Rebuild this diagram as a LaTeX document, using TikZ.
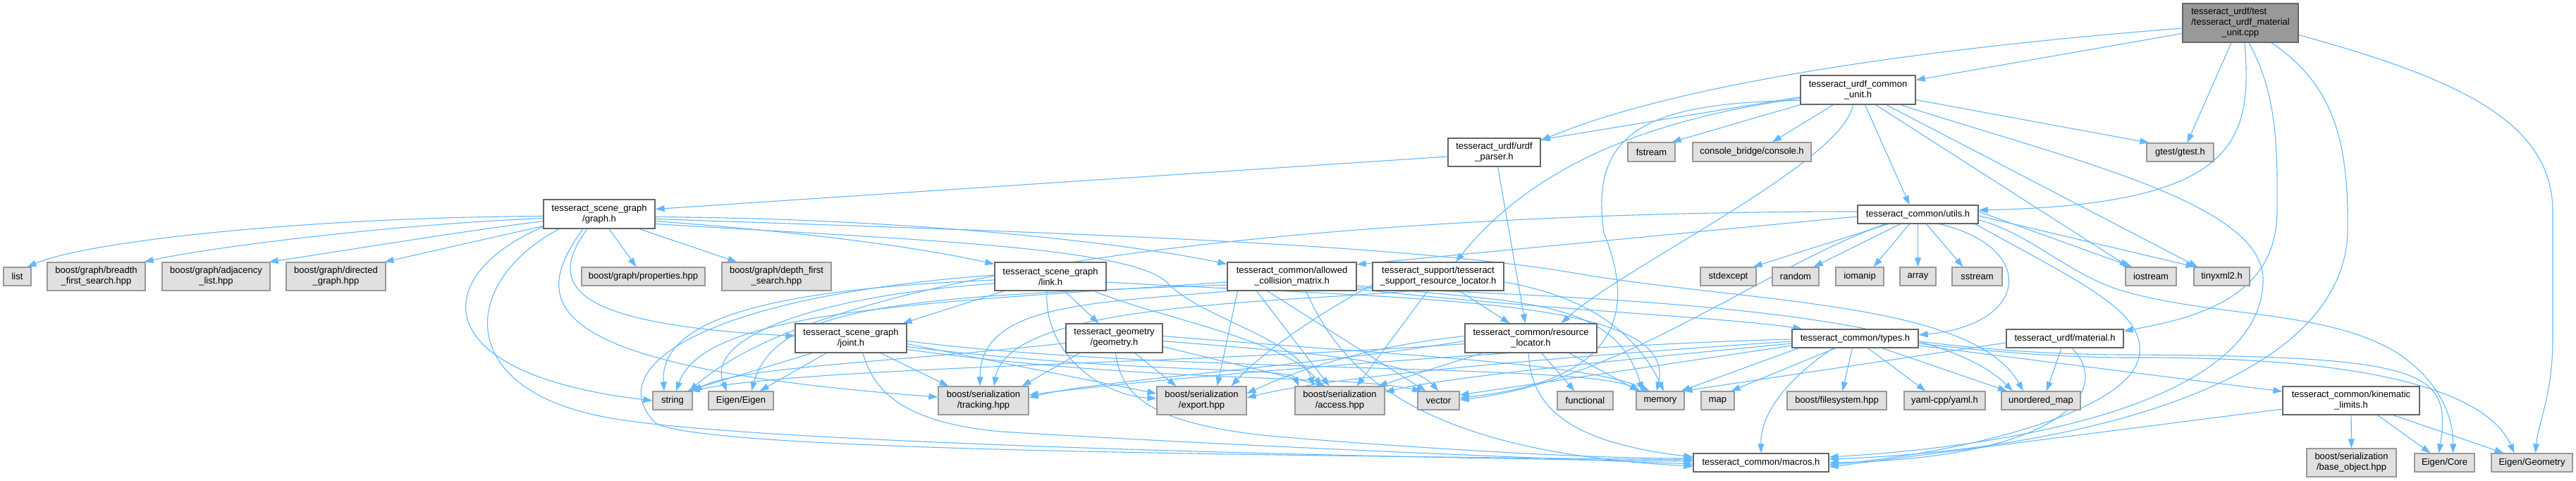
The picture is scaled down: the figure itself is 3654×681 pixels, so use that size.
\documentclass[tikz,border=0pt]{standalone}
\usepackage{fontspec}
\setmainfont{Liberation Sans}
\usetikzlibrary{arrows.meta,calc}
\pgfdeclarelayer{background}
\pgfsetlayers{background,main}
\definecolor{edgec}{HTML}{63B8FF}
\definecolor{docb}{HTML}{666666}
\definecolor{extb}{HTML}{999999}
\definecolor{extf}{HTML}{E0E0E0}
\definecolor{rootf}{HTML}{999999}
\tikzset{
  nfont/.style={font=\fontsize{13}{15}\selectfont},
  docn/.style={nfont,draw=docb,fill=white,line width=1.2pt,inner sep=0pt,align=center},
  extn/.style={nfont,draw=extb,fill=extf,line width=1.2pt,inner sep=0pt,align=center},
  rootn/.style={nfont,draw=docb,fill=rootf,line width=1.2pt,inner sep=0pt},
  edg/.style={draw=edgec,line width=1.1pt,-{Triangle[length=13pt,width=9pt]}}
}
\begin{document}
\begin{tikzpicture}[x=1pt,y=-1pt]
\useasboundingbox (0,0) rectangle (3654,681);
% ---------------- nodes ----------------
\node[rootn,minimum width=164pt,minimum height=55pt] (root) at (3178,32.5) {\begin{tabular}{@{}l@{}}tesseract\_urdf/test\\/tesseract\_urdf\_material\\\multicolumn{1}{@{}c@{}}{\_unit.cpp}\end{tabular}};
\node[docn,minimum width=163pt,minimum height=41pt] (UCU) at (2635.5,127.5) {tesseract\_urdf\_common\\\_unit.h};
\node[docn,minimum width=131pt,minimum height=40pt] (UP) at (2119.5,216) {tesseract\_urdf/urdf\\\_parser.h};
\node[extn,minimum width=95pt,minimum height=26pt] (gtest) at (3092.5,216) {gtest/gtest.h};
\node[extn,minimum width=67pt,minimum height=27pt] (fstream) at (2342.5,215.5) {fstream};
\node[extn,minimum width=168pt,minimum height=27pt] (console) at (2485,215.5) {console\_bridge/console.h};
\node[docn,minimum width=158pt,minimum height=41pt] (graph) at (850,303.5) {tesseract\_scene\_graph\\/graph.h};
\node[docn,minimum width=171pt,minimum height=26pt] (utils) at (2720.5,304) {tesseract\_common/utils.h};
\node[extn,minimum width=39pt,minimum height=26pt] (list) at (24.5,392) {list};
\node[extn,minimum width=139pt,minimum height=40pt] (breadth) at (136.5,392) {boost/graph/breadth\\\_first\_search.hpp};
\node[extn,minimum width=153pt,minimum height=40pt] (adjacency) at (306.5,392) {boost/graph/adjacency\\\_list.hpp};
\node[extn,minimum width=141pt,minimum height=40pt] (directed) at (476.5,392) {boost/graph/directed\\\_graph.hpp};
\node[extn,minimum width=175pt,minimum height=26pt] (properties) at (912.5,392) {boost/graph/properties.hpp};
\node[extn,minimum width=155pt,minimum height=40pt] (depth) at (1101.5,392) {boost/graph/depth\_first\\\_search.hpp};
\node[docn,minimum width=158pt,minimum height=40pt] (link) at (1490,392) {tesseract\_scene\_graph\\/link.h};
\node[docn,minimum width=183pt,minimum height=40pt] (ACM) at (1832.5,392) {tesseract\_common/allowed\\\_collision\_matrix.h};
\node[docn,minimum width=186pt,minimum height=40pt] (SRL) at (2040,392) {tesseract\_support/tesseract\\\_support\_resource\_locator.h};
\node[extn,minimum width=79pt,minimum height=26pt] (stdexcept) at (2451.5,392) {stdexcept};
\node[extn,minimum width=66pt,minimum height=26pt] (random) at (2547,392) {random};
\node[extn,minimum width=68pt,minimum height=26pt] (iomanip) at (2638,392) {iomanip};
\node[extn,minimum width=51pt,minimum height=26pt] (array) at (2720.5,392) {array};
\node[extn,minimum width=71pt,minimum height=26pt] (sstream) at (2804.5,392) {sstream};
\node[extn,minimum width=72pt,minimum height=26pt] (iostream) at (3051,392) {iostream};
\node[extn,minimum width=79pt,minimum height=26pt] (tinyxml) at (3151.5,392) {tinyxml2.h};
\node[docn,minimum width=158pt,minimum height=41pt] (joint) at (1207,479.5) {tesseract\_scene\_graph\\/joint.h};
\node[docn,minimum width=137pt,minimum height=41pt] (geometry) at (1580.5,479.5) {tesseract\_geometry\\/geometry.h};
\node[docn,minimum width=187pt,minimum height=41pt] (RL) at (2171.5,479.5) {tesseract\_common/resource\\\_locator.h};
\node[docn,minimum width=179pt,minimum height=26pt] (types) at (2631.5,480) {tesseract\_common/types.h};
\node[docn,minimum width=166pt,minimum height=26pt] (material) at (2929,480) {tesseract\_urdf/material.h};
\node[extn,minimum width=56pt,minimum height=26pt] (string) at (954,568) {string};
\node[extn,minimum width=92pt,minimum height=26pt] (EigenEigen) at (1051,568) {Eigen/Eigen};
\node[extn,minimum width=128pt,minimum height=40pt] (tracking) at (1395,568) {boost/serialization\\/tracking.hpp};
\node[extn,minimum width=127pt,minimum height=40pt] (export) at (1704.5,568) {boost/serialization\\/export.hpp};
\node[extn,minimum width=127pt,minimum height=40pt] (access) at (1900.5,568) {boost/serialization\\/access.hpp};
\node[extn,minimum width=59pt,minimum height=26pt] (vector) at (2040.5,568) {vector};
\node[extn,minimum width=79pt,minimum height=26pt] (functional) at (2248.5,568) {functional};
\node[extn,minimum width=68pt,minimum height=26pt] (memory) at (2355,568) {memory};
\node[extn,minimum width=47pt,minimum height=26pt] (map) at (2436.5,568) {map};
\node[extn,minimum width=141pt,minimum height=26pt] (filesystem) at (2605.5,568) {boost/filesystem.hpp};
\node[extn,minimum width=115pt,minimum height=26pt] (yaml) at (2758.5,568) {yaml-cpp/yaml.h};
\node[extn,minimum width=112pt,minimum height=26pt] (unordered) at (2895,568) {unordered\_map};
\node[docn,minimum width=194pt,minimum height=40pt] (kinematic) at (3335,568) {tesseract\_common/kinematic\\\_limits.h};
\node[docn,minimum width=192pt,minimum height=26pt] (macros) at (2498,656) {tesseract\_common/macros.h};
\node[extn,minimum width=127pt,minimum height=40pt] (baseobj) at (3335.5,656) {boost/serialization\\/base\_object.hpp};
\node[extn,minimum width=85pt,minimum height=26pt] (EigenCore) at (3467.5,656) {Eigen/Core};
\node[extn,minimum width=115pt,minimum height=26pt] (EigenGeometry) at (3591.5,656) {Eigen/Geometry};
% ---------------- edges ----------------
\begin{pgfonlayer}{background}
\fill[white] (0,0) rectangle (3654,681);
% root
\draw[edg] ($(root.west)+(0,7.5)$) .. controls (2650,75) and (2350,130) .. ($(UP.north east)+(0,4)$);
\draw[edg] ($(root.west)+(0,15)$) -- ($(UCU.east)+(0,-14)$);
\draw[edg] ($(root.south)+(-13,0)$) -- ($(gtest.north)+(10,0)$);
\draw[edg] ($(root.south)+(6,0)$) .. controls (3195,200) and (3175,290) .. ($(utils.east)+(0,-6)$);
\draw[edg] ($(root.south)+(12,0)$) .. controls (3228,130) and (3231,200) .. (3230,300) .. controls (3229,420) and (3120,450) .. ($(material.north east)+(0,3)$);
\draw[edg] ($(root.south)+(44,0)$) .. controls (3310,120) and (3332,200) .. (3330,330) .. controls (3322,560) and (2900,640) .. ($(macros.east)+(0,-5)$);
\draw[edg] ($(root.east)+(0,17)$) .. controls (3480,110) and (3621,170) .. (3621,300) -- (3621,480) .. controls (3621,560) and (3600,600) .. ($(EigenGeometry.north)+(5,0)$);
% UCU
\draw[edg] ($(UCU.west)+(0,10)$) -- ($(UP.east)+(0,-18)$);
\draw[edg] ($(UCU.west)+(0,12)$) .. controls (2330,170) and (2170,240) .. ($(SRL.north)+(25,0)$);
\draw[edg] ($(UCU.west)+(0,15)$) .. controls (2330,145) and (2255,190) .. (2275,330) .. controls (2320,440) and (2300,540) .. ($(vector.east)+(0,-4)$);
\draw[edg] (UCU.south west) -- ($(fstream.north east)+(-5,0)$);
\draw[edg] ($(UCU.south)+(-35,0)$) -- ($(console.north)+(29,0)$);
\draw[edg] ($(UCU.south)+(-7,0)$) .. controls (2615,230) and (2300,380) .. ($(RL.north)+(43,0)$);
\draw[edg] ($(UCU.south)+(10,0)$) -- ($(utils.north)+(-12,0)$);
\draw[edg] ($(UCU.south)+(25,0)$) -- ($(iostream.north west)+(5,0)$);
\draw[edg] ($(UCU.south)+(40,0)$) -- ($(tinyxml.north west)+(6,0)$);
\draw[edg] ($(UCU.south)+(60,0)$) .. controls (2950,230) and (3215,290) .. (3210,400) .. controls (3205,560) and (2900,630) .. ($(macros.east)+(0,-8)$);
\draw[edg] ($(UCU.east)+(0,14)$) -- ($(gtest.north west)+(4,0)$);
% UP
\draw[edg] ($(UP.west)+(0,6)$) -- ($(graph.east)+(0,-7)$);
\draw[edg] ($(UP.south)+(5,0)$) -- ($(RL.north)+(-8,0)$);
% graph
\draw[edg] ($(graph.west)+(0,3)$) .. controls (450,308) and (130,340) .. ($(list.north east)+(-6,0)$);
\draw[edg] ($(graph.west)+(0,6)$) .. controls (560,318) and (300,350) .. ($(breadth.north east)+(-2,0)$);
\draw[edg] ($(graph.west)+(0,10)$) .. controls (640,330) and (460,360) .. ($(adjacency.north east)+(-2,0)$);
\draw[edg] ($(graph.west)+(0,17)$) -- ($(directed.north east)+(-2,0)$);
\draw[edg] ($(graph.south)+(14,0)$) -- ($(properties.north)+(-10,0)$);
\draw[edg] ($(graph.south east)+(-23,0)$) -- ($(depth.north west)+(22,0)$);
\draw[edg] ($(graph.south west)+(0,-3)$) .. controls (610,390) and (600,530) .. (string.west);
\draw[edg] ($(graph.south west)+(23,0)$) .. controls (650,400) and (640,560) .. (880,595) .. controls (1100,630) and (2000,650) .. ($(macros.west)+(0,-2)$);
\draw[edg] ($(graph.south)+(-17,0)$) .. controls (770,410) and (820,460) .. ($(joint.west)+(0,-3)$);
\draw[edg] ($(graph.south)+(-23,0)$) .. controls (750,430) and (760,520) .. ($(tracking.west)+(0,-5)$);
\draw[edg] ($(graph.east)+(0,10)$) .. controls (1150,330) and (1300,350) .. ($(link.north west)+(0,3)$);
\draw[edg] ($(graph.east)+(0,4)$) .. controls (1300,310) and (1600,345) .. ($(ACM.north west)+(0,3)$);
\draw[edg] ($(graph.east)+(0,14)$) .. controls (1300,340) and (1600,350) .. (1655,400) .. controls (1700,450) and (1840,480) .. ($(access.north)+(-37,0)$);
\draw[edg] ($(graph.east)+(0,7)$) .. controls (1500,330) and (2000,345) .. (2250,390) .. controls (2500,430) and (2800,430) .. ($(unordered.north)+(-25,0)$);
% link
\draw[edg] ($(link.south west)+(14,0)$) -- ($(joint.north east)+(-6,0)$);
\draw[edg] ($(link.south)+(20,0)$) -- ($(geometry.north)+(-22,0)$);
\draw[edg] ($(link.west)+(0,5)$) .. controls (1100,410) and (935,450) .. ($(string.north)+(-12,0)$);
\draw[edg] ($(link.west)+(0,10)$) .. controls (1150,420) and (1000,480) .. ($(EigenEigen.north)+(-20,0)$);
\draw[edg] ($(link.south)+(-5,0)$) .. controls (1480,500) and (1560,560) .. ($(export.west)+(0,-3)$);
\draw[edg] ($(link.south east)+(-18,0)$) .. controls (1640,450) and (1820,480) .. ($(access.north)+(-25,0)$);
\draw[edg] ($(link.east)+(0,8)$) .. controls (2000,425) and (2380,420) .. ($(memory.north)+(-5,0)$);
\draw[edg] ($(link.west)+(0,-2)$) .. controls (1000,420) and (850,520) .. (930,600) .. controls (1000,640) and (1800,645) .. ($(macros.west)+(0,-4)$);
% joint
\draw[edg] ($(joint.south west)+(25,0)$) -- ($(string.north east)+(-8,0)$);
\draw[edg] ($(joint.south west)+(45,0)$) -- ($(EigenEigen.north east)+(-20,0)$);
\draw[edg] ($(joint.south)+(42,0)$) -- ($(tracking.north west)+(15,0)$);
\draw[edg] ($(joint.east)+(0,8)$) -- ($(export.west)+(0,-10)$);
\draw[edg] ($(joint.east)+(0,12)$) .. controls (1600,530) and (1830,520) .. ($(access.north west)+(6,0)$);
\draw[edg] ($(joint.east)+(0,16)$) .. controls (1650,545) and (1900,530) .. ($(vector.north west)+(6,0)$);
\draw[edg] ($(joint.east)+(0,4)$) .. controls (1650,530) and (2250,515) .. ($(memory.north west)+(6,0)$);
\draw[edg] ($(joint.south)+(17,0)$) .. controls (1240,560) and (1290,600) .. (1420,612) .. controls (1800,635) and (2200,650) .. ($(macros.west)+(0,2)$);
% geometry
\draw[edg] ($(geometry.west)+(0,7)$) .. controls (1250,515) and (1050,520) .. (string.north east);
\draw[edg] ($(geometry.south west)+(20,0)$) -- ($(tracking.north east)+(-10,0)$);
\draw[edg] ($(geometry.south east)+(-40,0)$) -- ($(export.north)+(-36,0)$);
\draw[edg] ($(geometry.east)+(0,12)$) -- ($(access.north)+(-20,0)$);
\draw[edg] ($(geometry.east)+(0,4)$) .. controls (1850,500) and (2000,510) .. (vector.north);
\draw[edg] ($(geometry.east)+(0,-3)$) .. controls (2000,505) and (2250,515) .. ($(memory.north)+(-15,0)$);
\draw[edg] ($(geometry.south)+(2,0)$) .. controls (1590,560) and (1630,600) .. (1800,618) .. controls (2000,635) and (2250,650) .. ($(macros.west)+(0,-6)$);
% ACM
\draw[edg] ($(ACM.west)+(0,8)$) .. controls (1300,430) and (1000,440) .. ($(string.north)+(5,0)$);
\draw[edg] ($(ACM.west)+(0,12)$) .. controls (1300,420) and (1100,430) .. ($(EigenEigen.north)+(15,0)$);
\draw[edg] ($(ACM.south west)+(5,0)$) .. controls (1550,430) and (1390,430) .. ($(tracking.north)+(-5,0)$);
\draw[edg] ($(ACM.south west)+(15,0)$) -- ($(export.north east)+(-42,0)$);
\draw[edg] ($(ACM.south)+(-50,0)$) -- ($(access.north)+(-15,0)$);
\draw[edg] ($(ACM.south)+(-35,0)$) -- ($(vector.north west)+(12,0)$);
\draw[edg] ($(ACM.east)+(0,13)$) .. controls (2150,430) and (2290,420) .. ($(memory.north)+(-25,0)$);
\draw[edg] ($(ACM.east)+(0,16)$) .. controls (2400,425) and (2750,450) .. ($(unordered.north)+(-40,0)$);
\draw[edg] ($(ACM.east)+(0,18)$) .. controls (2200,440) and (2450,450) .. ($(types.north west)+(15,0)$);
\draw[edg] ($(ACM.south)+(20,0)$) .. controls (1900,520) and (2000,640) .. ($(macros.west)+(0,5)$);
% SRL
\draw[edg] ($(SRL.south)+(30,0)$) -- ($(RL.north)+(-30,0)$);
\draw[edg] ($(SRL.south)+(-15,0)$) -- ($(access.north east)+(-40,0)$);
\draw[edg] ($(SRL.south west)+(55,0)$) .. controls (1800,430) and (1430,430) .. ($(tracking.north)+(15,0)$);
\draw[edg] ($(SRL.west)+(0,12)$) .. controls (1870,445) and (1790,500) .. ($(export.north east)+(-22,0)$);
\draw[edg] ($(SRL.east)+(0,8)$) .. controls (2250,420) and (2320,470) .. ($(memory.north)+(5,0)$);
% RL
\draw[edg] ($(RL.south)+(15,0)$) -- ($(functional.north)+(-15,0)$);
\draw[edg] ($(RL.south east)+(-40,0)$) -- ($(memory.north west)+(4,0)$);
\draw[edg] ($(RL.south)+(-3,0)$) .. controls (2170,590) and (2250,630) .. ($(macros.west)+(0,-8)$);
\draw[edg] ($(RL.south west)+(25,0)$) -- ($(access.north east)+(-10,0)$);
\draw[edg] ($(RL.west)+(0,-3)$) .. controls (1950,490) and (1850,520) .. ($(export.east)+(0,-10)$);
\draw[edg] ($(RL.west)+(0,4)$) .. controls (1850,520) and (1550,540) .. ($(tracking.east)+(0,-4)$);
\draw[edg] ($(RL.west)+(0,8)$) .. controls (1700,515) and (1150,520) .. ($(string.north east)+(-3,0)$);
% utils
\draw[edg] ($(utils.south)+(-42,0)$) -- ($(stdexcept.north east)+(-5,0)$);
\draw[edg] ($(utils.south)+(-25,0)$) -- ($(random.north east)+(-8,0)$);
\draw[edg] ($(utils.south)+(-12,0)$) -- ($(iomanip.north east)+(-15,0)$);
\draw[edg] (utils) -- (array);
\draw[edg] ($(utils.south)+(12,0)$) -- ($(sstream.north)+(-20,0)$);
\draw[edg] ($(utils.south)+(30,0)$) .. controls (2890,350) and (2880,460) .. ($(types.east)+(0,-5)$);
\draw[edg] ($(utils.west)+(0,3)$) -- ($(ACM.east)+(0,-17)$);
\draw[edg] ($(utils.west)+(0,-4)$) .. controls (2000,300) and (1200,360) .. ($(string.north east)+(-5,0)$);
\draw[edg] ($(utils.south west)+(40,0)$) .. controls (2500,380) and (2300,540) .. ($(vector.east)+(0,-1)$);
\draw[edg] ($(utils.east)+(0,-4)$) -- ($(iostream.north west)+(10,0)$);
\draw[edg] ($(utils.east)+(0,2)$) -- ($(tinyxml.north west)+(2,0)$);
\draw[edg] ($(utils.east)+(0,8)$) .. controls (2880,330) and (2940,395) .. (3020,415) .. controls (3150,450) and (3300,440) .. (3400,500) .. controls (3460,540) and (3480,590) .. ($(EigenCore.north)+(12,0)$);
\draw[edg] ($(utils.south east)+(-5,0)$) .. controls (2950,400) and (3040,440) .. (3035,500) .. controls (3030,580) and (2800,640) .. ($(macros.east)+(0,3)$);
% types
\draw[edg] ($(types.south)+(-28,0)$) -- ($(map.north east)+(-5,0)$);
\draw[edg] ($(types.south)+(-4,0)$) -- ($(filesystem.north)+(8,0)$);
\draw[edg] ($(types.south)+(18,0)$) -- ($(yaml.north)+(-27,0)$);
\draw[edg] ($(types.south east)+(-52,0)$) -- ($(unordered.north)+(-48,0)$);
\draw[edg] ($(types.south)+(-31,0)$) .. controls (2530,540) and (2497,590) .. (macros.north);
\draw[edg] ($(types.south west)+(10,0)$) -- ($(memory.north east)+(-5,0)$);
\draw[edg] ($(types.east)+(0,10)$) -- ($(kinematic.west)+(0,-13)$);
\draw[edg] ($(types.east)+(0,4)$) .. controls (2850,500) and (2950,503) .. (3020,503) .. controls (3440,505) and (3478,525) .. ($(EigenCore.north)+(-8,0)$);
\draw[edg] ($(types.east)+(0,7)$) .. controls (2850,502) and (2950,507) .. (3020,507) .. controls (3380,505) and (3530,560) .. ($(EigenGeometry.north)+(-25,0)$);
\draw[edg] ($(types.west)+(0,10)$) -- ($(vector.east)+(0,-8)$);
\draw[edg] ($(types.west)+(0,4)$) .. controls (2300,500) and (1900,530) .. ($(export.east)+(0,-4)$);
\draw[edg] ($(types.west)+(0,7)$) .. controls (2300,510) and (2050,535) .. ($(access.east)+(0,-12)$);
\draw[edg] ($(types.west)+(0,1)$) .. controls (2200,490) and (1650,535) .. ($(tracking.east)+(0,-8)$);
% material
\draw[edg] ($(material.south)+(-5,0)$) -- ($(unordered.north)+(8,0)$);
\draw[edg] ($(material.west)+(0,6)$) -- ($(memory.north east)+(-2,0)$);
\draw[edg] ($(material.south)+(10,0)$) .. controls (3000,555) and (2920,650) .. (macros.east);
% kinematic
\draw[edg] (kinematic) -- (baseobj);
\draw[edg] ($(kinematic.south east)+(-60,0)$) -- ($(EigenCore.north)+(-20,0)$);
\draw[edg] ($(kinematic.south east)+(-38,0)$) -- ($(EigenGeometry.north)+(-40,0)$);
\draw[edg] ($(kinematic.west)+(0,12)$) -- ($(macros.east)+(0,6)$);
\end{pgfonlayer}
\end{tikzpicture}
\end{document}
